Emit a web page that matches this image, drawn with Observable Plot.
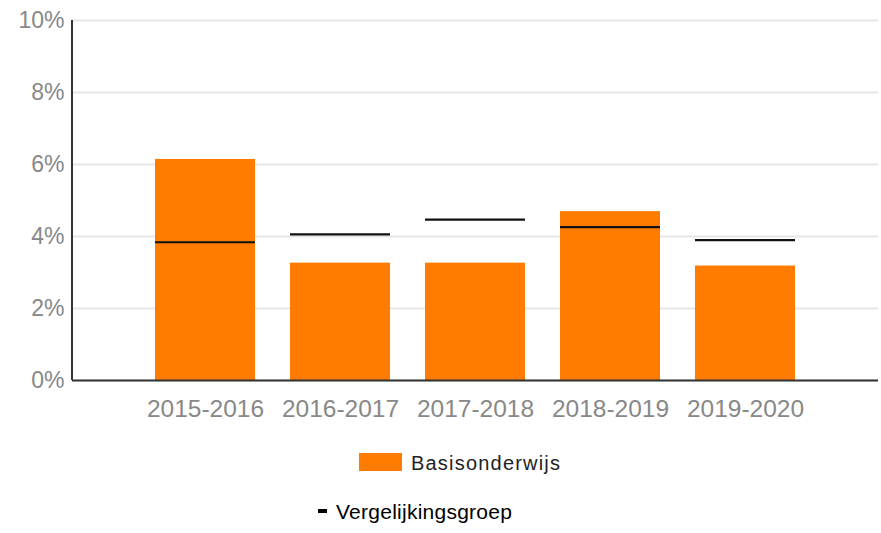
<!DOCTYPE html>
<html>
<head>
<meta charset="utf-8">
<script src="https://cdn.jsdelivr.net/npm/d3@7"></script>
<script src="https://cdn.jsdelivr.net/npm/@observablehq/plot@0.6"></script>
<style>
  html, body { margin: 0; padding: 0; background: #fff; }
  body { width: 881px; height: 533px; position: relative; overflow: hidden; font-family: Arial, "Liberation Sans", sans-serif; }
  #chart { position: absolute; left: 0; top: 0; }
  .leg { position: absolute; font-size: 20px; line-height: 20px; white-space: nowrap; }
</style>
</head>
<body>
<div id="chart"></div>
<div class="leg" style="left:359px; top:453px;">
  <span style="display:inline-block; width:43px; height:18px; background:#ff7c00; vertical-align:top; margin-top:0px;"></span>
</div>
<div class="leg" style="left:411px; top:453px; color:#222; letter-spacing:1.2px;">Basisonderwijs</div>
<div class="leg" style="left:318px; top:509px;"><span style="display:inline-block; width:9px; height:4px; background:#000; vertical-align:top;"></span></div>
<div class="leg" style="left:336px; top:502px; color:#000; font-size:21px; letter-spacing:0.25px;">Vergelijkingsgroep</div>
<script>
const years = ["2015-2016", "2016-2017", "2017-2018", "2018-2019", "2019-2020"];
const basisonderwijs = [6.14, 3.26, 3.26, 4.69, 3.18];
const vergelijkingsgroep = [3.84, 4.06, 4.47, 4.26, 3.90];
const yTicks = [0, 2, 4, 6, 8, 10];

const rows = years.map((year, i) => ({year, basis: basisonderwijs[i], verg: vergelijkingsgroep[i]}));

const chart = Plot.plot({
  width: 881,
  height: 430,
  marginLeft: 72,
  marginRight: 3,
  marginTop: 20,
  marginBottom: 50,
  style: {fontFamily: "Arial, 'Liberation Sans', sans-serif", background: "#fff"},
  x: {domain: years, paddingInner: 0.26, paddingOuter: 0.615, label: null},
  y: {domain: [0, 10], label: null},
  marks: [
    Plot.gridY(yTicks, {stroke: "#e6e6e6", strokeOpacity: 1, strokeWidth: 2}),
    Plot.axisY(yTicks, {tickSize: 0, tickPadding: 8, tickFormat: d => d + "%", fontSize: 23, fill: "#888", label: null}),
    Plot.axisX({tickSize: 0, tickPadding: 19, fontSize: 24.5, fill: "#888", label: null}),
    Plot.barY(rows, {x: "year", y: "basis", fill: "#ff7c00"}),
    Plot.tickY(rows, {x: "year", y: "verg", stroke: "#111", strokeWidth: 2.2}),
    Plot.ruleY([0], {stroke: "#333", strokeWidth: 2})
  ]
});

const xs = chart.scale("x").range;
const ys = chart.scale("y").range;
d3.select(chart).append("line")
  .attr("x1", xs[0]).attr("x2", xs[0])
  .attr("y1", ys[0]).attr("y2", ys[1])
  .attr("stroke", "#333").attr("stroke-width", 2);

document.getElementById("chart").appendChild(chart);
</script>
</body>
</html>
